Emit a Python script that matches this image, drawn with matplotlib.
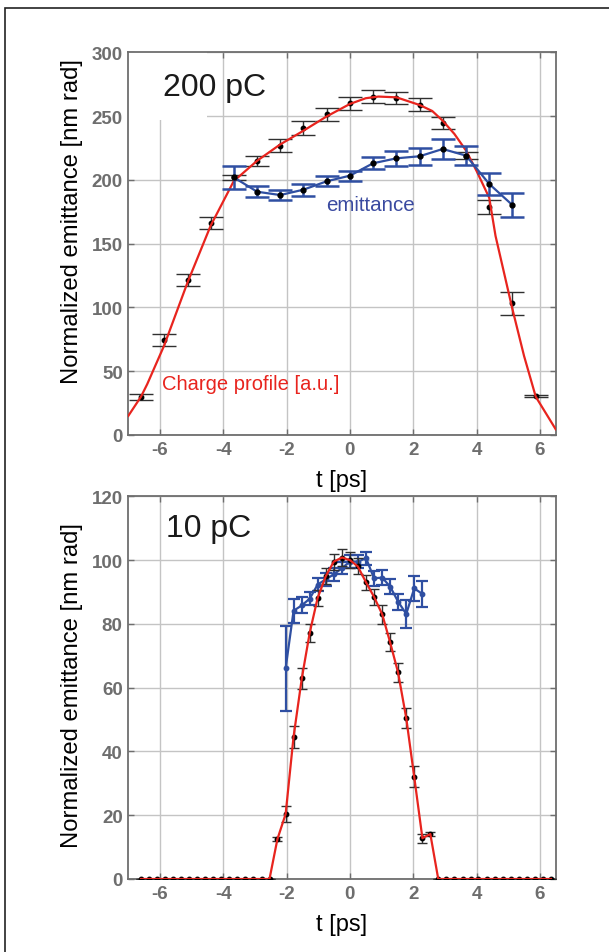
import matplotlib
matplotlib.use("Agg")
import matplotlib.pyplot as plt
from matplotlib.patches import Rectangle

plt.rcParams['font.family'] = ['Liberation Sans', 'DejaVu Sans']
plt.rcParams['axes.unicode_minus'] = False

# ---------------- data: 200 pC ----------------
t_q200 = [-6.6, -5.87, -5.13, -4.4, -3.67, -2.93, -2.2, -1.47, -0.73, 0.0,
          0.73, 1.47, 2.2, 2.93, 3.67, 4.4, 5.13, 5.87]
q200 = [30, 74.7, 121.7, 166, 202, 214.5, 226.8, 240.4, 251.4, 260,
        265.2, 264.4, 258.7, 244.6, 219, 178.7, 103.2, 30.6]
q200_err = [2.4, 4.7, 4.8, 4.8, 2, 4, 5, 5.4, 5, 5.2,
            5.2, 4.8, 5.1, 5, 3, 5.5, 9, 0.8]

t_fit200 = [-7.0, -6.6, -6.4, -5.87, -5.13, -4.4, -3.67, -2.93, -2.2, -1.47,
            -0.73, 0.0, 0.5, 0.9, 1.47, 2.2, 2.6, 2.93, 3.3, 3.67,
            4.0, 4.4, 4.6, 5.13, 5.5, 5.87, 6.5]
fit200 = [15, 30, 40, 70, 119.5, 164, 199, 215, 227.8, 238.5,
          249.8, 259.5, 264, 265.3, 264.7, 258.7, 254, 246.4, 236, 222.9,
          207, 186, 156, 99, 62, 30, 4.5]

t_e200 = [-3.67, -2.93, -2.2, -1.47, -0.73, 0.0, 0.73, 1.47, 2.2, 2.93,
          3.67, 4.4, 5.13]
e200 = [202, 190.7, 188.1, 192.3, 198.9, 203.3, 213, 216.9, 218.5, 224.2,
        219, 196.8, 180.3]
e200_err = [9, 4.5, 4, 4.7, 4, 4, 4.7, 5.7, 6.8, 7.6, 7.4, 8.6, 9.5]

# ---------------- data: 10 pC ----------------
t_q10 = [-6.6, -6.35, -6.1, -5.84, -5.59, -5.33, -5.08, -4.83, -4.57, -4.32,
         -4.06, -3.81, -3.56, -3.3, -3.05, -2.79, -2.54, -2.29, -2.03, -1.78,
         -1.52, -1.27, -1.02, -0.76, -0.51, -0.25, 0.0, 0.25, 0.51, 0.76,
         1.02, 1.27, 1.52, 1.78, 2.03, 2.29, 2.54, 2.79, 3.05, 3.3,
         3.56, 3.81, 4.06, 4.32, 4.57, 4.83, 5.08, 5.33, 5.59, 5.84,
         6.1, 6.35]
q10 = [0, 0, 0, 0, 0, 0, 0, 0, 0, 0,
       0, 0, 0, 0, 0, 0, 0, 12.5, 20.4, 44.6,
       62.9, 77.2, 88.1, 95, 99.5, 100.8, 100, 98, 93, 88.5,
       83, 74.2, 64.8, 50.4, 32.1, 12.8, 14.1, 0, 0, 0,
       0, 0, 0, 0, 0, 0, 0, 0, 0, 0,
       0, 0]
q10_err = [0, 0, 0, 0, 0, 0, 0, 0, 0, 0,
           0, 0, 0, 0, 0, 0, 0, 0.6, 2.6, 3.5,
           3.3, 2.8, 2.5, 2.5, 2.5, 2.7, 2.5, 2.5, 2.3, 2.5,
           3, 2.8, 2.9, 3.2, 3.2, 1.4, 0.5, 0, 0, 0,
           0, 0, 0, 0, 0, 0, 0, 0, 0, 0,
           0, 0]

t_e10 = [-2.03, -1.78, -1.52, -1.27, -1.02, -0.76, -0.51, -0.25, 0.0, 0.25,
         0.51, 0.76, 1.02, 1.27, 1.52, 1.78, 2.03, 2.29]
e10 = [66.1, 84.1, 85.8, 87.9, 92.3, 94, 95.5, 97.5, 99.5, 99.5,
       100.6, 94.3, 94.5, 91.7, 87, 83.1, 91.1, 89.4]
e10_err = [13.3, 3.7, 2.5, 2, 2, 2, 2, 2, 2, 2,
           2, 2.3, 2.3, 2.3, 2.5, 4.3, 3.9, 4]

xticks = [-6, -4, -2, 0, 2, 4, 6]
yticks200 = [0, 50, 100, 150, 200, 250, 300]
yticks10 = [0, 20, 40, 60, 80, 100, 120]

RED = '#e8241e'
BLUE = '#2f4fa2'
GRAY = '#6e6e6e'

W, H = 609, 953
fig = plt.figure(figsize=(W / 100, H / 100), dpi=100)

def px_axes(l, t, r, b):
    return fig.add_axes([l / W, 1 - b / H, (r - l) / W, (b - t) / H])

ax1 = px_axes(128.3, 53.3, 555.7, 436)
ax2 = px_axes(128.3, 497.3, 555.7, 880)

def style(ax, yt, ylim):
    ax.set_xlim(-7, 6.5)
    ax.set_ylim(*ylim)
    ax.set_xticks(xticks)
    ax.set_yticks(yt)
    ax.grid(True, color='#c4c4c4', lw=1.0, zorder=0)
    ax.set_axisbelow(True)
    for s in ax.spines.values():
        s.set_color(GRAY)
        s.set_linewidth(1.3)
    ax.tick_params(direction='in', length=4, width=1, color=GRAY,
                   top=True, right=True, labelsize=13.5, labelcolor=GRAY, pad=4)
    for lab in ax.get_xticklabels() + ax.get_yticklabels():
        lab.set_fontweight('bold')
    ax.set_xlabel('t [ps]', fontsize=17, labelpad=8)
    ax.set_ylabel('Normalized emittance [nm rad]', fontsize=17.2)

style(ax1, yticks200, (0, 300))
style(ax2, yticks10, (0, 120))
ax1.yaxis.set_label_coords(-0.106, 0.56)
ax2.yaxis.set_label_coords(-0.106, 0.507)

# ---- top panel ----
ax1.add_patch(Rectangle((-7, 247), 2.5, 53, fc='white', ec='none', zorder=1))
ax1.errorbar(t_q200, q200, yerr=q200_err, fmt='o', ms=3.2, color='black',
             ecolor='#303030', elinewidth=1.0, capsize=8.3, capthick=1.0, zorder=3)
ax1.plot(t_fit200, fit200, color=RED, lw=1.6, zorder=4)
ax1.errorbar(t_e200, e200, yerr=e200_err, fmt='-', color=BLUE, lw=1.6,
             ecolor=BLUE, elinewidth=1.8, capsize=8.3, capthick=1.8, zorder=5)
ax1.plot(t_e200, e200, 'o', ms=3.5, color='black', zorder=6)
ax1.text(162.7 / W, 1 - 96 / H, '200 pC', transform=fig.transFigure,
         fontsize=23, color='#1a1a1a', va='baseline', ha='left', zorder=7)
ax1.text(0.65, 180.5, 'emittance', fontsize=14.8, color='#3a4aa0', ha='center', va='center')
ax1.text(-5.95, 40, 'Charge profile [a.u.]', fontsize=14.5, color=RED, ha='left', va='center')

# ---- bottom panel ----
ax2.errorbar(t_e10, e10, yerr=e10_err, fmt='-o', ms=3.2, color=BLUE, lw=1.6,
             ecolor=BLUE, elinewidth=1.6, capsize=4, capthick=1.6, zorder=3)
ax2.errorbar(t_q10, q10, yerr=q10_err, fmt='o', ms=3.2, color='black',
             ecolor='#303030', elinewidth=1.0, capsize=3.3, capthick=1.0, zorder=4)
ax2.plot(t_q10, q10, color=RED, lw=1.6, zorder=5)
ax2.text(166 / W, 1 - 536.7 / H, '10 pC', transform=fig.transFigure,
         fontsize=23, color='#1a1a1a', va='baseline', ha='left', zorder=7)

# figure frame
fig.add_artist(Rectangle((5 / W, -0.05), 1.2, 1 - 9 / H + 0.05,
                         transform=fig.transFigure, fill=False, lw=1.2, ec='#222222'))

fig.savefig('out.png', dpi=100)
